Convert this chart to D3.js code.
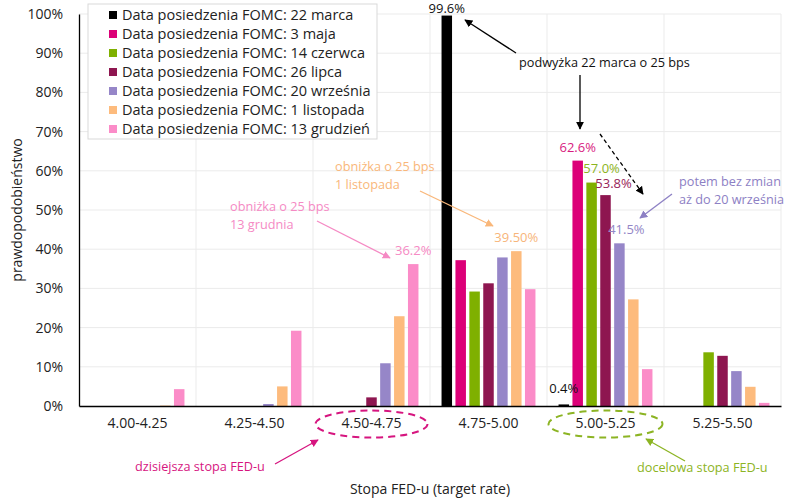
<!DOCTYPE html>
<html>
<head>
<meta charset="utf-8">
<script src="https://cdn.jsdelivr.net/npm/d3@7"></script>
<style>
	body { margin: 0; background: #fff; }
	svg text { font-family: "Open Sans", "Noto Sans", sans-serif; }
</style>
</head>
<body>
<div id="chart"></div>
<script>
'use strict';

// target rate buckets
const rates = ["4.00-4.25", "4.25-4.50", "4.50-4.75", "4.75-5.00", "5.00-5.25", "5.25-5.50"];

const meetings = [
	"Data posiedzenia FOMC: 22 marca",
	"Data posiedzenia FOMC: 3 maja",
	"Data posiedzenia FOMC: 14 czerwca",
	"Data posiedzenia FOMC: 26 lipca",
	"Data posiedzenia FOMC: 20 września",
	"Data posiedzenia FOMC: 1 listopada",
	"Data posiedzenia FOMC: 13 grudzień"
];
const colors = ["#000000", "#dc0078", "#7fb000", "#8e1650", "#9686c8", "#fdbb7d", "#fb8cc8"];

// probabilities (%) per bucket
const mar22 = [0, 0, 0, 99.6, 0.4, 0];
const may3  = [0, 0, 0, 37.2, 62.6, 0];
const jun14 = [0, 0, 0, 29.2, 57.0, 13.7];
const jul26 = [0, 0, 2.2, 31.3, 53.8, 12.8];
const sep20 = [0, 0.5, 10.9, 37.9, 41.5, 8.9];
const nov1  = [0.1, 5.0, 22.9, 39.5, 27.2, 4.9];
const dec13 = [4.3, 19.2, 36.2, 29.8, 9.4, 0.8];
const series = [mar22, may3, jun14, jul26, sep20, nov1, dec13];

// value labels: [series, bucket, text]
const valueLabels = [
	[0, 3, "99.6%"],
	[0, 4, "0.4%"],
	[1, 4, "62.6%"],
	[2, 4, "57.0%"],
	[3, 4, "53.8%"],
	[4, 4, "41.5%"],
	[5, 3, "39.50%"],
	[6, 2, "36.2%"]
];

const width = 800, height = 501;
const margin = { top: 14, right: 19, bottom: 95, left: 79 };
const innerW = width - margin.left - margin.right;
const innerH = height - margin.top - margin.bottom;

const svg = d3.select("#chart").append("svg")
	.attr("width", width)
	.attr("height", height);

const defs = svg.append("defs");
function marker(id, color) {
	defs.append("marker")
		.attr("id", id)
		.attr("viewBox", "0 0 10 10")
		.attr("refX", 9).attr("refY", 5)
		.attr("markerWidth", 8).attr("markerHeight", 8)
		.attr("markerUnits", "userSpaceOnUse")
		.attr("orient", "auto")
		.append("path")
			.attr("d", "M0,0 L10,5 L0,10 z")
			.attr("fill", color);
}

const g = svg.append("g")
	.attr("transform", `translate(${margin.left},${margin.top})`);

const x0 = d3.scaleBand()
	.domain(rates)
	.range([0, innerW]);

const x1 = d3.scaleBand()
	.domain(d3.range(meetings.length))
	.range([0, x0.bandwidth()])
	.paddingInner(0.245)
	.paddingOuter(0.83);

const y = d3.scaleLinear()
	.domain([0, 100])
	.range([innerH, 0]);

// grid
g.append("g")
	.selectAll("line")
	.data(d3.range(10, 101, 10))
	.join("line")
		.attr("x1", 0).attr("x2", innerW)
		.attr("y1", d => y(d)).attr("y2", d => y(d))
		.attr("stroke", "#ebebeb");

g.append("g")
	.selectAll("line")
	.data(rates.slice(1).concat(["end"]))
	.join("line")
		.attr("x1", d => d === "end" ? innerW : x0(d))
		.attr("x2", d => d === "end" ? innerW : x0(d))
		.attr("y1", 0).attr("y2", innerH)
		.attr("stroke", "#ebebeb");

// bars
const groups = g.append("g")
	.selectAll("g")
	.data(series)
	.join("g")
		.attr("fill", (d, i) => colors[i]);

groups.selectAll("rect")
	.data((d, si) => d.map((v, ri) => ({ si, ri, v })))
	.join("rect")
		.attr("x", d => x0(rates[d.ri]) + x1(d.si))
		.attr("y", d => y(d.v))
		.attr("width", x1.bandwidth())
		.attr("height", d => y(0) - y(d.v));

// axes
const yAxis = g.append("g")
	.call(d3.axisLeft(y)
		.tickValues(d3.range(0, 101, 10))
		.tickFormat(d => d + "%")
		.tickSize(0)
		.tickSizeOuter(0)
		.tickPadding(16));
yAxis.select(".domain").attr("stroke", "#000").attr("stroke-width", 1.3);
yAxis.selectAll("text")
	.attr("font-size", 14)
	.attr("fill", "#222");

const xAxis = g.append("g")
	.attr("transform", `translate(0,${innerH})`)
	.call(d3.axisBottom(x0).tickSize(0).tickSizeOuter(0).tickPadding(12));
xAxis.select(".domain").attr("stroke", "#000").attr("stroke-width", 1.3);
xAxis.selectAll("text")
	.attr("font-size", 14)
	.attr("fill", "#222");

// axis titles
svg.append("text")
	.attr("transform", `translate(22,${margin.top + innerH / 2}) rotate(-90)`)
	.attr("text-anchor", "middle")
	.attr("font-size", 14)
	.attr("fill", "#222")
	.text("prawdopodobieństwo");

svg.append("text")
	.attr("x", 430).attr("y", 494)
	.attr("text-anchor", "middle")
	.attr("font-size", 14)
	.attr("fill", "#222")
	.text("Stopa FED-u (target rate)");

// value labels
const labelColors = ["#111", "#d81b80", "#8cb41e", "#972458", "#9386c6", "#f7b57a", "#f68ac4"];
const labelShift = { "57.0%": [10, -1], "53.8%": [8, 2], "41.5%": [7, 0], "99.6%": [0, 6], "0.4%": [0, -2] };
g.append("g")
	.selectAll("text")
	.data(valueLabels)
	.join("text")
		.attr("x", d => x0(rates[d[1]]) + x1(d[0]) + x1.bandwidth() / 2 + (labelShift[d[2]] || [0, 0])[0])
		.attr("y", d => y(series[d[0]][d[1]]) - 9 + (labelShift[d[2]] || [0, 0])[1])
		.attr("text-anchor", "middle")
		.attr("font-size", 13)
		.attr("fill", d => labelColors[d[0]])
		.text(d => d[2]);

// legend
const legend = svg.append("g").attr("transform", "translate(88,4)");
legend.append("rect")
	.attr("width", 289).attr("height", 135)
	.attr("fill", "#fff")
	.attr("stroke", "#d9d9d9");
const items = legend.selectAll("g")
	.data(meetings)
	.join("g")
		.attr("transform", (d, i) => `translate(21,${11 + i * 19})`);
items.append("rect")
	.attr("x", 0).attr("y", -4)
	.attr("width", 8).attr("height", 8)
	.attr("fill", (d, i) => colors[i]);
items.append("text")
	.attr("x", 13).attr("y", 5)
	.attr("font-size", 14.5)
	.attr("fill", "#222")
	.text(d => d);

// annotations
marker("arBlack", "#000");
marker("arOrange", "#f9b77a");
marker("arPink", "#f58ac4");
marker("arPurple", "#8d80c4");
marker("arMagenta", "#d6157f");
marker("arGreen", "#8cb423");

function note(lines, x, y, color) {
	const t = svg.append("text")
		.attr("x", x).attr("y", y)
		.attr("font-size", 12.7)
		.attr("fill", color);
	lines.forEach((l, i) => t.append("tspan").attr("x", x).attr("dy", i ? 18 : 0).text(l));
}
function arrow(x1, y1, x2, y2, color, id, dash) {
	svg.append("line")
		.attr("x1", x1).attr("y1", y1)
		.attr("x2", x2).attr("y2", y2)
		.attr("stroke", color)
		.attr("stroke-width", 1.3)
		.attr("stroke-dasharray", dash || null)
		.attr("marker-end", `url(#${id})`);
}

note(["podwyżka 22 marca o 25 bps"], 519, 67, "#111");
arrow(516, 53, 465, 20, "#000", "arBlack");
arrow(580, 75, 580, 129, "#000", "arBlack");
arrow(600, 134, 643, 194, "#000", "arBlack", "4,3");

note(["potem bez zmian", "aż do 20 września"], 679, 186, "#8d80c4");
arrow(672, 194, 640, 218, "#8d80c4", "arPurple");

note(["obniżka o 25 bps", "1  listopada"], 335, 171, "#f9b77a");
arrow(420, 191, 493, 226, "#f9b77a", "arOrange");

note(["obniżka o 25 bps", "13  grudnia"], 230, 211, "#f58ac4");
arrow(317, 221, 390, 258, "#f58ac4", "arPink");

// ellipses round buckets
svg.append("ellipse")
	.attr("cx", margin.left + x0("4.50-4.75") + x0.bandwidth() / 2).attr("cy", 424)
	.attr("rx", 56).attr("ry", 13.5)
	.attr("fill", "none")
	.attr("stroke", "#d6157f")
	.attr("stroke-width", 2)
	.attr("stroke-dasharray", "7,5");
svg.append("ellipse")
	.attr("cx", margin.left + x0("5.00-5.25") + x0.bandwidth() / 2).attr("cy", 424)
	.attr("rx", 57).attr("ry", 13.5)
	.attr("fill", "none")
	.attr("stroke", "#8cb423")
	.attr("stroke-width", 2)
	.attr("stroke-dasharray", "7,5");

note(["dzisiejsza stopa FED-u"], 135, 471, "#d6157f");
arrow(275, 464, 318, 440, "#d6157f", "arMagenta");

note(["docelowa stopa FED-u"], 637, 472, "#8cb423");
arrow(685, 461, 646, 439, "#8cb423", "arGreen");
</script>
</body>
</html>
